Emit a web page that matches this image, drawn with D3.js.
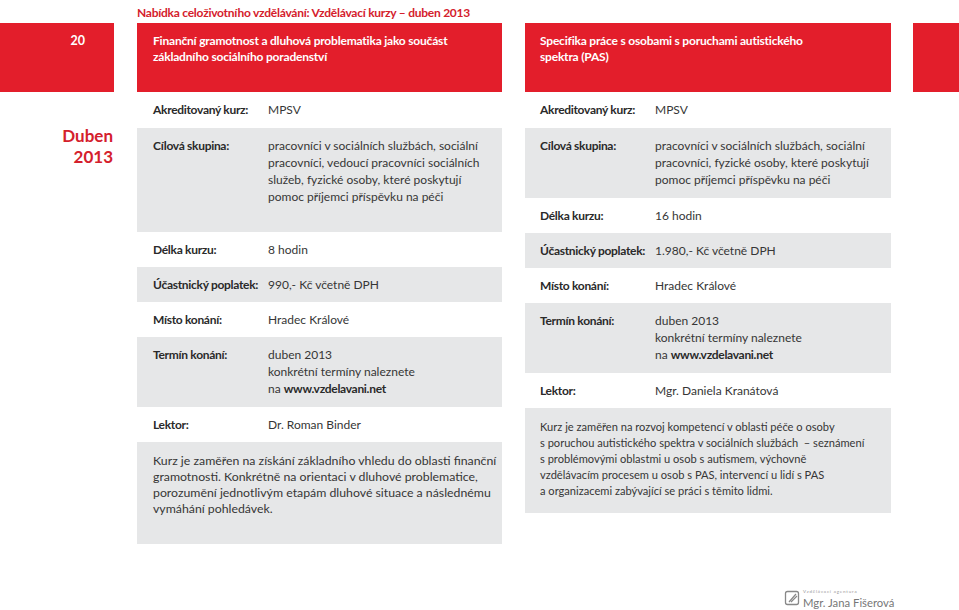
<!DOCTYPE html>
<html>
<head>
<meta charset="utf-8">
<script src="https://cdn.jsdelivr.net/npm/d3@7"></script>
<style>
  body { margin: 0; background: #fff; }
  svg text { font-family: Lato, "Open Sans", sans-serif; }
</style>
</head>
<body>
<div class="page"></div>
<script>
// page texts
var pageTitle = "Nabídka celoživotního vzdělávání: Vzdělávací kurzy – duben 2013";
var pageNumber = "20";
var monthLabel = ["Duben", "2013"];

var courseTitles = [
  ["Finanční gramotnost a dluhová problematika jako součást", "základního sociálního poradenství"],
  ["Specifika práce s osobami s poruchami autistického", "spektra (PAS)"]
];

var accreditation = ["MPSV", "MPSV"];

// rows of each course: label + value lines
var leftRows = [
  { label: "Cílová skupina:", lines: ["pracovníci v sociálních službách, sociální", "pracovníci, vedoucí pracovníci sociálních", "služeb, fyzické osoby, které poskytují", "pomoc příjemci příspěvku na péči"] },
  { label: "Délka kurzu:", lines: ["8 hodin"] },
  { label: "Účastnický poplatek:", lines: ["990,- Kč včetně DPH"] },
  { label: "Místo konání:", lines: ["Hradec Králové"] },
  { label: "Termín konání:", lines: ["duben 2013", "konkrétní termíny naleznete", "na |www.vzdelavani.net"] },
  { label: "Lektor:", lines: ["Dr. Roman Binder"] }
];
var rightRows = [
  { label: "Cílová skupina:", lines: ["pracovníci v sociálních službách, sociální", "pracovníci, fyzické osoby, které poskytují", "pomoc příjemci příspěvku na péči"] },
  { label: "Délka kurzu:", lines: ["16 hodin"] },
  { label: "Účastnický poplatek:", lines: ["1.980,- Kč včetně DPH"] },
  { label: "Místo konání:", lines: ["Hradec Králové"] },
  { label: "Termín konání:", lines: ["duben 2013", "konkrétní termíny naleznete", "na |www.vzdelavani.net"] },
  { label: "Lektor:", lines: ["Mgr. Daniela Kranátová"] }
];

var descriptions = [
  ["Kurz je zaměřen na získání základního vhledu do oblasti finanční", "gramotnosti. Konkrétně na orientaci v dluhové problematice,", "porozumění jednotlivým etapám dluhové situace a následnému", "vymáhání pohledávek."],
  ["Kurz je zaměřen na rozvoj kompetencí v oblasti péče o osoby", "s poruchou autistického spektra v sociálních službách  – seznámení", "s problémovými oblastmi u osob s autismem, výchovně", "vzdělávacím procesem u osob s PAS, intervencí u lidí s PAS", "a organizacemi zabývající se práci s těmito lidmi."]
];

var logoSmall = "Vzdělávací agentura";
var logoName = "Mgr. Jana Fišerová";

// layout
var svgWidth = 959;
var svgHeight = 610;
var red = "#e31e2b";
var gray = "#e6e7e8";
var textColor = "#363636";
var fontSize = 12;
var lineGap = 17;

var svg = d3.select(".page")
  .append("svg")
  .attr("width", svgWidth)
  .attr("height", svgHeight);

// red band
var bandY = 23, bandH = 69;
var bandX = d3.scaleOrdinal()
  .domain(["num", "c0", "c1", "edge"])
  .range([[0, 114], [137, 502], [525, 891], [913, 959]]);

svg.selectAll("rect.band")
  .data(bandX.domain())
  .enter()
  .append("rect")
  .attr("class", "band")
  .attr("x", function(d) { return bandX(d)[0]; })
  .attr("y", bandY)
  .attr("width", function(d) { return bandX(d)[1] - bandX(d)[0]; })
  .attr("height", bandH)
  .attr("fill", red);

svg.append("text")
  .attr("x", 137)
  .attr("y", 17)
  .attr("fill", "#d4202c")
  .attr("font-size", 12)
  .attr("letter-spacing", -0.25)
  .attr("font-weight", "bold")
  .text(pageTitle);

svg.append("text")
  .attr("x", 85)
  .attr("y", 45)
  .attr("text-anchor", "end")
  .attr("fill", "#fff")
  .attr("font-size", 12.5)
  .attr("font-weight", "bold")
  .text(pageNumber);

svg.selectAll("text.month")
  .data(monthLabel)
  .enter()
  .append("text")
  .attr("class", "month")
  .attr("x", 113)
  .attr("y", function(d, i) { return 142 + i * 21; })
  .attr("text-anchor", "end")
  .attr("fill", "#d4202c")
  .attr("font-size", 17)
  .attr("font-weight", "bold")
  .text(function(d) { return d; });

// one column per course
var columns = [
  { x: 137, w: 365, labelX: 153, valueX: 268, rows: leftRows,
    heights: [104, 35, 35, 35, 70, 35], descH: 102, descSize: 12.3 },
  { x: 525, w: 366, labelX: 540, valueX: 655, rows: rightRows,
    heights: [70, 35, 35, 35, 70, 35], descH: 105, descSize: 11.1 }
];

columns.forEach(function(col, ci) {
  var g = svg.append("g");

  // course title in the red band
  g.selectAll("text.title")
    .data(courseTitles[ci])
    .enter()
    .append("text")
    .attr("x", col.labelX)
    .attr("y", function(d, i) { return 45 + i * 16; })
    .attr("fill", "#fff")
    .attr("font-size", 12)
    .attr("letter-spacing", -0.2)
    .attr("font-weight", "bold")
    .text(function(d) { return d; });

  g.append("text")
    .attr("x", col.labelX)
    .attr("y", 114)
    .attr("fill", "#2a2a2a")
    .attr("font-size", fontSize)
    .attr("letter-spacing", -0.3)
    .attr("font-weight", "bold")
    .text("Akreditovaný kurz:");
  g.append("text")
    .attr("x", col.valueX)
    .attr("y", 114)
    .attr("fill", textColor)
    .attr("font-size", fontSize)
    .text(accreditation[ci]);

  var y = 128;
  col.rows.forEach(function(row, ri) {
    var h = col.heights[ri];
    if (ri % 2 === 0) {
      g.append("rect")
        .attr("x", col.x).attr("y", y)
        .attr("width", col.w).attr("height", h)
        .attr("fill", gray);
    }
    g.append("text")
      .attr("x", col.labelX)
      .attr("y", y + 22)
      .attr("fill", "#2a2a2a")
      .attr("font-size", fontSize)
      .attr("letter-spacing", -0.3)
      .attr("font-weight", "bold")
      .text(row.label);

    row.lines.forEach(function(line, li) {
      var t = g.append("text")
        .attr("x", col.valueX)
        .attr("y", y + 22 + li * lineGap)
        .attr("fill", textColor)
        .attr("font-size", fontSize);
      var parts = line.split("|");
      t.append("tspan").text(parts[0]);
      if (parts[1]) t.append("tspan").attr("font-weight", "bold").attr("fill", "#2a2a2a").attr("letter-spacing", -0.3).text(parts[1]);
    });
    y += h;
  });

  // description box
  g.append("rect")
    .attr("x", col.x).attr("y", y)
    .attr("width", col.w).attr("height", col.descH)
    .attr("fill", gray);
  g.selectAll("text.desc")
    .data(descriptions[ci])
    .enter()
    .append("text")
    .attr("x", col.labelX)
    .attr("y", function(d, i) { return y + 23 + i * 16; })
    .attr("fill", textColor)
    .attr("font-size", col.descSize)
    .style("white-space", "pre")
    .text(function(d) { return d; });
});

// logo bottom right
var logo = svg.append("g").attr("transform", "translate(785,591)");
logo.append("rect")
  .attr("x", 0.5).attr("y", 0.5)
  .attr("width", 13).attr("height", 13)
  .attr("rx", 2)
  .attr("fill", "none")
  .attr("stroke", "#888")
  .attr("stroke-width", 1.3);
logo.append("path")
  .attr("d", "M4,11 L11,3 M6,11 L12,5")
  .attr("stroke", "#888")
  .attr("stroke-width", 1.2)
  .attr("fill", "none");
logo.append("text")
  .attr("x", 18).attr("y", 2)
  .attr("fill", "#999")
  .attr("font-size", 4.5)
  .attr("letter-spacing", 0.8)
  .text(logoSmall);
logo.append("text")
  .attr("x", 18).attr("y", 16)
  .attr("fill", "#777")
  .attr("font-size", 11.3)
  .text(logoName);
</script>
</body>
</html>
